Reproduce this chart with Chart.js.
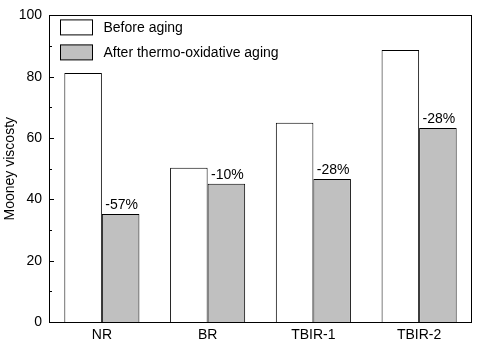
<!DOCTYPE html>
<html>
<head>
<meta charset="utf-8">
<script src="https://cdn.jsdelivr.net/npm/chart.js@4/dist/chart.umd.min.js"></script>
<style>
  html, body { margin: 0; padding: 0; background: #fff; }
  #wrap { width: 480px; height: 346px; }
</style>
</head>
<body>
<div id="wrap"><canvas id="chart"></canvas></div>
<script>
// Data
const categories = ['NR', 'BR', 'TBIR-1', 'TBIR-2'];
const beforeAging = [81.2, 50.3, 65.0, 88.7];
const afterAging = [35.2, 45.1, 46.6, 63.3];
const changeLabels = ['-57%', '-10%', '-28%', '-28%'];
const seriesNames = ['Before aging', 'After thermo-oxidative aging'];
const yTicks = [0, 20, 40, 60, 80, 100];

const FONT = 'Liberation Sans, Arial, sans-serif';

// frame, inward ticks, bar annotations and the inset legend
const decorations = {
    id: 'decorations',
    afterDatasetsDraw(chart) {
        const ctx = chart.ctx;
        const area = chart.chartArea;
        const y = chart.scales.y;

        ctx.save();
        ctx.strokeStyle = '#000';
        ctx.lineWidth = 1;
        ctx.strokeRect(Math.round(area.left) + 0.5, Math.round(area.top) + 0.5,
            Math.round(area.right - area.left) - 1, Math.round(area.bottom - area.top));

        // major + minor ticks pointing in
        for (let v = 0; v <= 100; v += 10) {
            const py = Math.round(y.getPixelForValue(v)) + 0.5;
            const len = v % 20 === 0 ? 5 : 3;
            ctx.beginPath();
            ctx.moveTo(area.left, py);
            ctx.lineTo(area.left + len, py);
            ctx.stroke();
        }

        // percent change above the aged bars
        const meta = chart.getDatasetMeta(1);
        ctx.fillStyle = '#000';
        ctx.font = '14px ' + FONT;
        ctx.textBaseline = 'bottom';
        meta.data.forEach((bar, i) => {
            ctx.textAlign = 'left';
            const w = ctx.measureText(changeLabels[i]).width;
            ctx.fillText(changeLabels[i], bar.x - w / 2 + 1, bar.y - 2);
        });

        // legend
        chart.data.datasets.forEach((ds, i) => {
            const bx = area.left + 11.5;
            const by = area.top + 4.5 + i * 25;
            ctx.fillStyle = ds.backgroundColor;
            ctx.fillRect(bx, by, 32, 15);
            ctx.strokeStyle = '#000';
            ctx.strokeRect(bx, by, 32, 15);
            ctx.fillStyle = '#000';
            ctx.textAlign = 'left';
            ctx.textBaseline = 'middle';
            ctx.fillText(ds.label, bx + 43, by + 8);
        });
        ctx.restore();
    }
};

new Chart(document.getElementById('chart'), {
    type: 'bar',
    data: {
        labels: categories,
        datasets: [
            {
                label: seriesNames[0],
                data: beforeAging,
                backgroundColor: '#ffffff',
                borderColor: '#000000',
                borderWidth: 1
            },
            {
                label: seriesNames[1],
                data: afterAging,
                backgroundColor: '#c0c0c0',
                borderColor: '#000000',
                borderWidth: 1
            }
        ]
    },
    options: {
        responsive: true,
        maintainAspectRatio: false,
        animation: false,
        layout: { padding: { top: 4, right: 8, left: 0, bottom: 0 } },
        datasets: { bar: { categoryPercentage: 0.71, barPercentage: 1.0 } },
        plugins: {
            legend: { display: false },
            tooltip: { enabled: false }
        },
        scales: {
            x: {
                grid: { display: false, drawTicks: false },
                border: { display: false },
                ticks: { color: '#000', font: { family: FONT, size: 14 }, padding: 5 },
                afterFit(scale) { scale.height = 24; }
            },
            y: {
                min: 0,
                max: 100,
                afterBuildTicks(scale) { scale.ticks = yTicks.map(v => ({ value: v })); },
                grid: { display: false, drawTicks: false },
                border: { display: false },
                ticks: { color: '#000', font: { family: FONT, size: 14 }, padding: 7 },
                title: {
                    display: true,
                    text: 'Mooney viscosty',
                    color: '#000',
                    font: { family: FONT, size: 14 },
                    padding: { top: 2, bottom: 4 }
                },
                afterFit(scale) { scale.width = 49; }
            }
        }
    },
    plugins: [decorations]
});
</script>
</body>
</html>
